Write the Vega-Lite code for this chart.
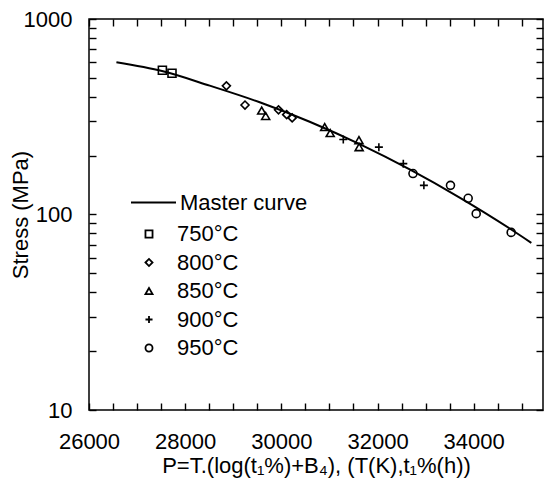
{
  "$schema": "https://vega.github.io/schema/vega-lite/v6.json",
  "width": 454,
  "height": 391,
  "autosize": {"type": "none"},
  "padding": {"left": 89, "top": 19, "right": 4, "bottom": 77},
  "background": "white",
  "config": {
    "view": {"stroke": "black", "strokeWidth": 1.5},
    "font": "Liberation Sans",
    "axis": {
      "domain": false, "grid": false, "tickColor": "black", "tickWidth": 1.4, "tickSize": 7, "offset": -7,
      "labelFlush": false, "labelOverlap": false,
      "labelColor": "black", "titleColor": "black", "labelFont": "Liberation Sans", "titleFont": "Liberation Sans",
      "labelFontSize": 22, "titleFontSize": 22, "titleFontWeight": "normal"
    },
    "legend": {"labelFont": "Liberation Sans", "labelFontSize": 22, "labelColor": "black"}
  },
  "datasets": {
    "curve": [
      {"P": 26570, "S": 600.6},
      {"P": 27539, "S": 540},
      {"P": 28510, "S": 456},
      {"P": 29550, "S": 375},
      {"P": 30589, "S": 298},
      {"P": 31629, "S": 229},
      {"P": 32669, "S": 170},
      {"P": 33708, "S": 122},
      {"P": 34748, "S": 84.8},
      {"P": 35199, "S": 71.6}
    ],
    "points": [
      {"T": "750°C", "P": 27526, "S": 547},
      {"T": "750°C", "P": 27726, "S": 528},
      {"T": "800°C", "P": 28857, "S": 455},
      {"T": "800°C", "P": 29244, "S": 363},
      {"T": "800°C", "P": 29941, "S": 343},
      {"T": "800°C", "P": 30111, "S": 324},
      {"T": "800°C", "P": 30225, "S": 312},
      {"T": "850°C", "P": 29591, "S": 340},
      {"T": "850°C", "P": 29674, "S": 319},
      {"T": "850°C", "P": 30901, "S": 280},
      {"T": "850°C", "P": 31016, "S": 261},
      {"T": "850°C", "P": 31614, "S": 240},
      {"T": "850°C", "P": 31618, "S": 221},
      {"T": "900°C", "P": 31288, "S": 242},
      {"T": "900°C", "P": 32028, "S": 221},
      {"T": "900°C", "P": 32536, "S": 182},
      {"T": "900°C", "P": 32964, "S": 141},
      {"T": "950°C", "P": 32737, "S": 162},
      {"T": "950°C", "P": 33517, "S": 141},
      {"T": "950°C", "P": 33885, "S": 121},
      {"T": "950°C", "P": 34052, "S": 101},
      {"T": "950°C", "P": 34779, "S": 81}
    ]
  },
  "layer": [
    {
      "data": {"name": "curve"},
      "mark": {"type": "line", "color": "black", "strokeWidth": 2, "interpolate": "monotone"},
      "encoding": {
        "x": {
          "field": "P", "type": "quantitative",
          "scale": {"domain": [26000, 35441], "nice": false, "zero": false},
          "axis": {
            "orient": "bottom",
            "values": [26000, 26500, 27000, 27500, 28000, 28500, 29000, 29500, 30000, 30500, 31000, 31500, 32000, 32500, 33000, 33500, 34000, 34500, 35000],
            "format": "d",
            "labelExpr": "datum.value % 2000 === 0 ? datum.label : ''",
            "labelPadding": 21,
            "titlePadding": 3,
            "title": "P=T.(log(t₁%)+B₄), (T(K),t₁%(h))"
          }
        },
        "y": {
          "field": "S", "type": "quantitative",
          "scale": {"type": "log", "domain": [10, 1000], "nice": false},
          "axis": {
            "orient": "left",
            "values": [10, 20, 30, 40, 50, 60, 70, 80, 90, 100, 200, 300, 400, 500, 600, 700, 800, 900, 1000],
            "format": "d",
            "labelExpr": "datum.value === 10 || datum.value === 100 || datum.value === 1000 ? datum.label : ''",
            "labelPadding": 17,
            "titlePadding": -9,
            "title": "Stress (MPa)"
          }
        },
        "stroke": {
          "datum": "Master curve", "type": "nominal",
          "scale": {"range": ["black"]},
          "legend": {
            "orient": "none", "legendX": 41, "legendY": 160, "title": null, "padding": 0,
            "symbolType": "stroke", "symbolSize": 2025, "symbolStrokeWidth": 2, "symbolStrokeColor": "black",
            "labelOffset": 3
          }
        }
      }
    },
    {
      "data": {"name": "points"},
      "mark": {"type": "point", "filled": false, "color": "black", "strokeWidth": 1.6, "size": 64, "opacity": 1},
      "encoding": {
        "x": {
          "field": "P", "type": "quantitative",
          "axis": {
            "orient": "top",
            "values": [26000, 26500, 27000, 27500, 28000, 28500, 29000, 29500, 30000, 30500, 31000, 31500, 32000, 32500, 33000, 33500, 34000, 34500, 35000],
            "labels": false, "title": null
          }
        },
        "y": {
          "field": "S", "type": "quantitative",
          "axis": {
            "orient": "right",
            "values": [10, 20, 30, 40, 50, 60, 70, 80, 90, 100, 200, 300, 400, 500, 600, 700, 800, 900, 1000],
            "labels": false, "title": null
          }
        },
        "shape": {
          "field": "T", "type": "nominal",
          "scale": {
            "domain": ["750°C", "800°C", "850°C", "900°C", "950°C"],
            "range": ["square", "diamond", "triangle-up", "M-1,0L1,0M0,-1L0,1", "circle"]
          },
          "legend": {
            "orient": "none", "legendX": 49, "legendY": 204, "title": null, "padding": 0,
            "symbolSize": 50, "symbolStrokeWidth": 1.8, "symbolStrokeColor": "black", "symbolFillColor": "transparent",
            "labelOffset": 17, "rowPadding": 6.5
          }
        }
      }
    }
  ],
  "resolve": {"axis": {"x": "independent", "y": "independent"}}
}
